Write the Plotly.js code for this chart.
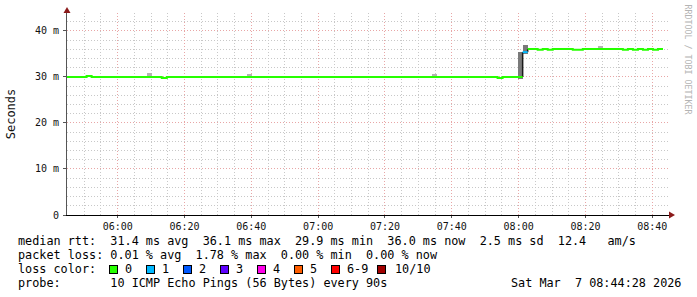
<!DOCTYPE html>
<html><head><meta charset="utf-8">
<script src="https://cdn.plot.ly/plotly-3.0.1.min.js"></script>
<style>html,body{margin:0;padding:0;background:#fff}#chart{width:697px;height:297px}</style>
</head><body><div id="chart"></div>
<script>
// ---- data ----
const sampleStart = '2026-03-07T05:44:42Z';   // start of first 90 s probe interval
const stepSeconds = 90;
// median RTT per probe (ms), 119 probes
const medianRtt = [
  30.0,30.0,30.0,30.0,30.2,30.0,30.0,30.0,30.0,30.0,
  30.0,30.0,30.0,30.0,30.0,30.0,30.0,30.0,30.0,29.8,
  30.0,30.0,30.0,30.0,30.0,30.0,30.0,30.0,30.0,30.0,
  30.0,30.0,30.0,30.0,30.0,30.0,30.0,30.0,30.0,30.0,
  30.0,30.0,30.0,30.0,30.0,30.0,30.0,30.0,30.0,30.0,
  30.0,30.0,30.0,30.0,30.0,30.0,30.0,30.0,30.0,30.0,
  30.0,30.0,30.0,30.0,30.0,30.0,30.0,30.0,30.0,30.0,
  30.0,30.0,30.0,30.0,30.0,30.0,30.0,30.0,30.0,30.0,
  30.0,30.0,30.0,30.0,30.0,30.0,29.8,30.0,30.0,30.0,
  30.0,35.4,36.1,36.1,35.9,36.1,35.9,36.1,36.1,36.1,
  36.1,35.9,35.9,36.1,36.1,36.1,36.1,36.1,36.1,36.1,
  36.1,35.9,36.1,35.9,36.1,35.9,36.1,35.9,36.1
];
// probes with packet loss (index, lost pings out of 10)
const lossSamples = [91];
const lossLevels = [1];
// visible smoke (min..max spread) per probe index (ms)
const smokeSamples = [13,16,24,36,52,58,72,73,74,82,90,91,106];
const smokeLow  = [30.0,30.0,30.0,30.0,30.0,30.0,30.0,30.0,30.0,30.0,29.6,35.0,36.1];
const smokeHigh = [30.3,30.9,30.3,30.6,30.3,30.3,30.3,30.6,30.3,30.3,35.5,37.0,36.7];
const yTickVals = [0,10,20,30,40];
const yTickText = ['0','10 m','20 m','30 m','40 m'];
const lossLabels = ['0','1','2','3','4','5','6-9','10/10'];
const lossColors = ['#26ff00','#00b8ff','#0059ff','#5e00ff','#ff00ea','#ff5e00','#ff0000','#a10000'];
const statsLines = [
  'median rtt:  31.4 ms avg  36.1 ms max  29.9 ms min  36.0 ms now  2.5 ms sd  12.4   am/s',
  'packet loss: 0.01 % avg  1.78 % max  0.00 % min  0.00 % now'
];
const lossTitle = 'loss color:';
const probeLine = 'probe:       10 ICMP Echo Pings (56 Bytes) every 90s';
const stampText = 'Sat Mar  7 08:44:28 2026';
const creditText = 'RRDTOOL / TOBI OETIKER';

// ---- helpers ----
const t0 = Date.parse(sampleStart);
const stepMs = stepSeconds * 1000;
const toDate = ms => new Date(ms).toISOString().replace('T',' ').replace('Z','');
const startOf = i => t0 + i * stepMs;
const lossOf = i => { const k = lossSamples.indexOf(i); return k < 0 ? 0 : lossLevels[k]; };
const colorOfLoss = n => n === 0 ? lossColors[0] : n <= 5 ? lossColors[n] : n < 10 ? lossColors[6] : lossColors[7];
const W = 697, H = 297, L = 67, R = 669, T = 13, B = 215;
const px = x => (x - L) / (R - L);
const py = y => (B - y) / (B - T);
const nb = s => s.replace(/ /g, '\u00A0');

const traces = [];
// smoke
traces.push({
  type: 'bar',
  x: smokeSamples.map(i => toDate(startOf(i) + stepMs / 2)),
  base: smokeLow,
  y: smokeHigh.map((h, k) => h - smokeLow[k]),
  width: smokeSamples.map(() => stepMs),
  marker: { color: smokeHigh.map((h, k) => (h - smokeLow[k]) > 1 ? '#7a7a7a' : '#b4b4b4'), line: { width: 0 } },
  hoverinfo: 'skip'
});
// median, one trace per loss colour
const segs = {};
let prev = null;
medianRtt.forEach((v, i) => {
  const lvl = lossOf(i);
  const c = colorOfLoss(lvl);
  if (!segs[c]) segs[c] = { x: [], y: [] };
  const s = segs[c];
  if (prev !== c && s.x.length) { s.x.push(null); s.y.push(null); }
  s.x.push(toDate(startOf(i)), toDate(startOf(i + 1)));
  s.y.push(v, v);
  prev = c;
});
// vertical connectors where loss colour changes
medianRtt.forEach((v, i) => {
  if (i > 0 && lossOf(i) !== lossOf(i - 1)) {
    traces.push({ type: 'scatter', mode: 'lines', x: [toDate(startOf(i)), toDate(startOf(i))],
      y: [medianRtt[i - 1], v], line: { color: '#1a1a1a', width: 1.5 }, hoverinfo: 'skip' });
  }
});
Object.keys(segs).forEach(c => {
  traces.push({ type: 'scatter', mode: 'lines', x: segs[c].x, y: segs[c].y,
    line: { color: c, width: 2 }, connectgaps: false, hoverinfo: 'skip' });
});

const mono = 'DejaVu Sans Mono';
const annotations = [];
const rowY = [241.3, 255.3, 269.3, 283.2];
statsLines.forEach((s, k) => annotations.push({ xref: 'paper', yref: 'paper', x: px(16), y: py(rowY[k]),
  xanchor: 'left', yanchor: 'middle', showarrow: false, text: nb(s), font: { family: mono, size: 11.8, color: '#000' } }));
annotations.push({ xref: 'paper', yref: 'paper', x: px(16), y: py(rowY[2]), xanchor: 'left', yanchor: 'middle',
  showarrow: false, text: nb(lossTitle), font: { family: mono, size: 11.8, color: '#000' } });
const boxX = [108.9, 145.8, 182.7, 219.8, 256.7, 293.6, 330.7, 376.9];
const labX = [123.0, 160.0, 197.0, 234.0, 271.0, 308.0, 345.0, 393.0];
lossLabels.forEach((lab, k) => {
  annotations.push({ xref: 'paper', yref: 'paper', x: px(boxX[k]), y: py(rowY[2]), xanchor: 'left', yanchor: 'middle',
    showarrow: false, text: '\u00A0', font: { size: 5 }, width: 7, height: 7, borderpad: 0, borderwidth: 1,
    bordercolor: '#000', bgcolor: lossColors[k] });
  annotations.push({ xref: 'paper', yref: 'paper', x: px(labX[k]), y: py(rowY[2]), xanchor: 'left', yanchor: 'middle',
    showarrow: false, text: nb(lab), font: { family: mono, size: 11.8, color: '#000' } });
});
annotations.push({ xref: 'paper', yref: 'paper', x: px(16), y: py(rowY[3]), xanchor: 'left', yanchor: 'middle',
  showarrow: false, text: nb(probeLine), font: { family: mono, size: 11.8, color: '#000' } });
annotations.push({ xref: 'paper', yref: 'paper', x: px(683), y: py(rowY[3]), xanchor: 'right', yanchor: 'middle',
  showarrow: false, text: nb(stampText), font: { family: mono, size: 11.8, color: '#000' } });
annotations.push({ xref: 'paper', yref: 'paper', x: px(687.5), y: py(60), xanchor: 'center', yanchor: 'middle',
  showarrow: false, textangle: 90, text: nb(creditText), font: { family: mono, size: 8.3, color: '#b4b4b4' } });

const arrowColor = '#8b1a1a';
const shapes = [
  { type: 'path', xref: 'paper', yref: 'paper', fillcolor: arrowColor, line: { width: 0 },
    path: `M ${px(63.5)},${py(13)} L ${px(67)},${py(7)} L ${px(70.5)},${py(13)} Z` },
  { type: 'path', xref: 'paper', yref: 'paper', fillcolor: arrowColor, line: { width: 0 },
    path: `M ${px(669)},${py(211.5)} L ${px(675)},${py(215)} L ${px(669)},${py(218.5)} Z` }
];

const layout = {
  width: W, height: H,
  margin: { l: L, r: W - R, t: T, b: H - B, pad: 0 },
  paper_bgcolor: '#ffffff', plot_bgcolor: '#ffffff',
  showlegend: false, bargap: 0,
  font: { family: mono, size: 10, color: '#000' },
  xaxis: {
    type: 'date',
    range: [toDate(Date.parse('2026-03-07T05:44:50Z')), toDate(Date.parse('2026-03-07T08:45:00Z'))],
    tick0: '2026-03-07 06:00:00', dtick: 1200000, tickformat: '%H:%M',
    showgrid: true, gridcolor: '#e8a6a6', griddash: '1px,2px', gridwidth: 1,
    minor: { tick0: '2026-03-07 06:00:00', dtick: 300000, showgrid: true, gridcolor: '#c8c8c8', griddash: '1px,2px', gridwidth: 1, ticks: '' },
    showline: true, linecolor: '#000', linewidth: 1, ticks: 'outside', ticklen: 2, tickcolor: '#555',
    zeroline: false, tickfont: { family: mono, size: 10, color: '#111' }, fixedrange: true
  },
  yaxis: {
    range: [0, 43.9], tickmode: 'array', tickvals: yTickVals, ticktext: yTickText,
    showgrid: true, gridcolor: '#e8a6a6', griddash: '1px,2px', gridwidth: 1,
    minor: { tickmode: 'linear', tick0: 0, dtick: 2, showgrid: true, gridcolor: '#c8c8c8', griddash: '1px,2px', gridwidth: 1, ticks: '' },
    showline: true, linecolor: '#555', linewidth: 1, ticks: 'outside', ticklen: 3, tickcolor: '#555',
    ticklabelstandoff: 2,
    zeroline: false, tickfont: { family: mono, size: 10, color: '#111' }, fixedrange: true,
    title: { text: 'Seconds', font: { family: mono, size: 12, color: '#111' }, standoff: 16 }
  },
  annotations, shapes
};
Plotly.newPlot('chart', traces, layout, { staticPlot: true, displayModeBar: false });
</script></body></html>
